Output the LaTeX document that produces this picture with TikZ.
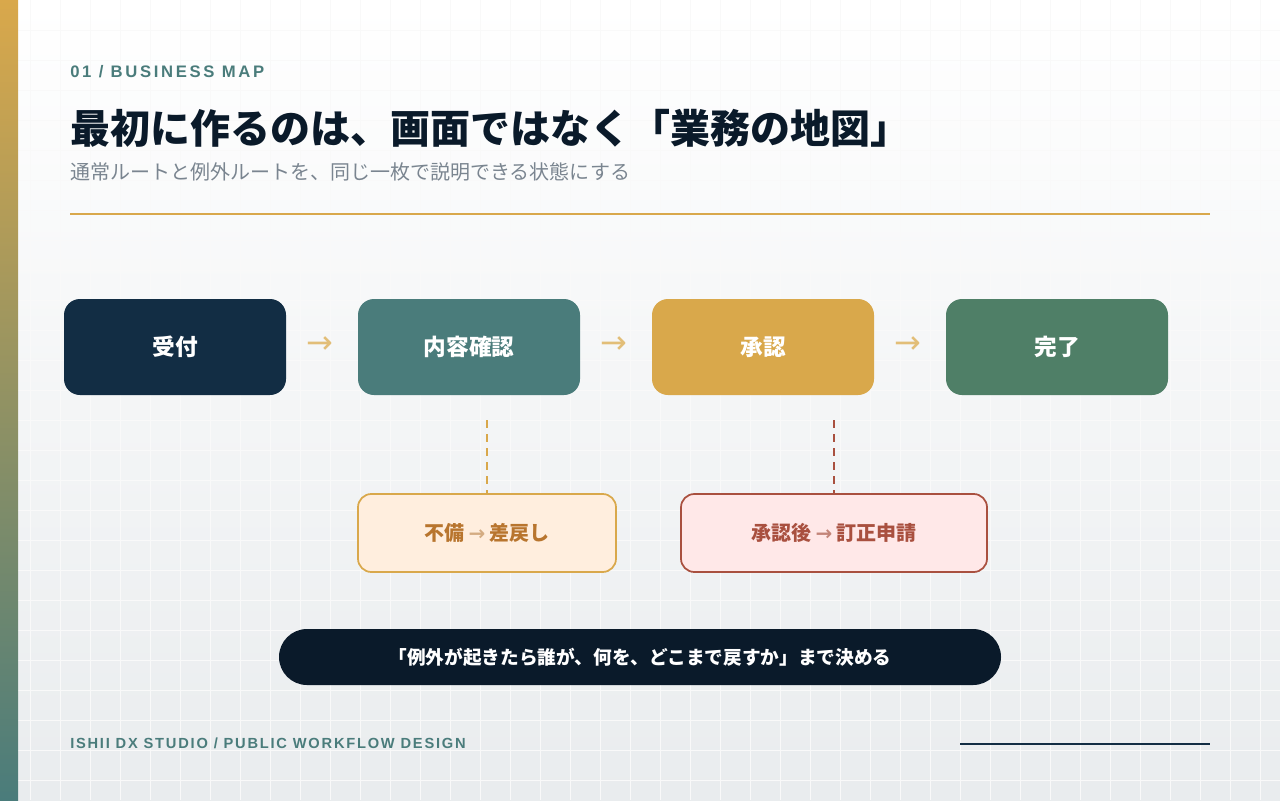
\documentclass[tikz,border=0pt]{standalone}
\usepackage{fontspec}
\setmainfont{Noto Sans CJK JP}
\newfontfamily\lat{Liberation Sans}
\newfontfamily\djv{DejaVu Sans}
\usetikzlibrary{calc}
\definecolor{navy}{HTML}{122D44}
\definecolor{teal}{HTML}{4A7C7B}
\definecolor{gold}{HTML}{D9A84B}
\definecolor{green}{HTML}{4F7F67}
\definecolor{ink}{HTML}{0A1A2A}
\definecolor{grayt}{HTML}{7A8590}
\definecolor{rust}{HTML}{A9503F}
\definecolor{orng}{HTML}{B8752E}
\definecolor{bgb}{HTML}{E9ECEE}
\begin{document}
\begin{tikzpicture}[x=0.75pt,y=-0.75pt,
  flowbox/.style={rounded corners=12pt,minimum width=166.5pt,minimum height=72pt,text=white,font=\fontsize{17}{19}\selectfont\bfseries},
  arr/.style={text=gold!75,font=\djv\fontsize{24}{26}\selectfont},
  exc/.style={rounded corners=10pt,minimum width=193.5pt,minimum height=58.5pt,line width=1.3pt,font=\fontsize{15}{17}\selectfont\bfseries},
  dashln/.style={line width=2.2pt,dash pattern=on 6pt off 4.5pt}]
\useasboundingbox (0,0) rectangle (1280,800);
\shade[top color=white,bottom color=bgb] (0,0) rectangle (1280,800);
\foreach \i in {30,60,...,1270} \draw[black!2.5,line width=0.6pt] (\i,0) -- (\i,800);
\foreach \j in {30,60,...,790} \draw[black!2.5,line width=0.6pt] (0,\j) -- (1280,\j);
\shade[top color=gold,bottom color=teal] (0,0) rectangle (18,800);
\node[anchor=west,inner sep=0,text=teal,font=\lat\addfontfeatures{LetterSpace=16}\fontsize{12.5}{14}\selectfont\bfseries] (kick) at (70,72) {01 / BUSINESS MAP};
\node[anchor=west,text=ink,font=\fontsize{30}{34}\selectfont\bfseries,inner sep=0] (title) at (70,128) {最初に作るのは、画面ではなく「業務の地図」};
\node[anchor=west,text=grayt,font=\fontsize{15}{17}\selectfont,inner sep=0] (sub) at (70,172) {通常ルートと例外ルートを、同じ一枚で説明できる状態にする};
\draw[gold,line width=2.2pt] (70,214) -- (1210,214);
\node[flowbox,fill=navy] (a) at (175,347) {受付};
\node[flowbox,fill=teal] (b) at (469,347) {内容確認};
\node[flowbox,fill=gold] (c) at (763,347) {承認};
\node[flowbox,fill=green] (d) at (1057,347) {完了};
\node[arr] (ab) at (320,345) {→};
\node[arr] (bc) at (614,345) {→};
\node[arr] (cd) at (908,345) {→};
\node[exc,draw=gold,fill=orange!13!white,text=orng] (e1) at (487,533) {不備 {\djv\color{orng!60}→} 差戻し};
\node[exc,draw=rust,fill=red!9!white,text=rust,minimum width=229.5pt] (e2) at (834,533) {承認後 {\djv\color{rust!70}→} 訂正申請};
\coordinate (t1) at (487,420); \coordinate (t2) at (834,420);
\draw[dashln,gold] (t1) -- (e1.north);
\draw[dashln,rust] (t2) -- (e2.north);
\node[fill=ink,text=white,rounded corners=21pt,minimum width=541.5pt,minimum height=42pt,font=\fontsize{14}{16}\selectfont\bfseries] (msg) at (640,657) {「例外が起きたら誰が、何を、どこまで戻すか」まで決める};
\node[anchor=west,inner sep=0,text=teal,font=\lat\addfontfeatures{LetterSpace=12}\fontsize{11}{13}\selectfont\bfseries] (foot) at (70,743) {ISHII DX STUDIO / PUBLIC WORKFLOW DESIGN};
\draw[navy,line width=2.2pt] (960,744) -- (1210,744);
\end{tikzpicture}
\end{document}
